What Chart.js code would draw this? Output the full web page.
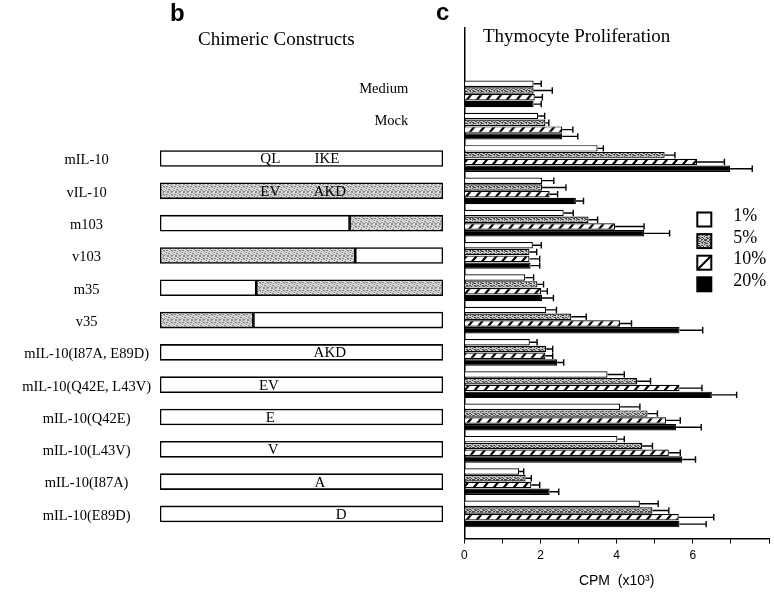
<!DOCTYPE html>
<html>
<head>
<meta charset="utf-8">
<title>Chimeric constructs and thymocyte proliferation</title>
<script src="https://cdn.jsdelivr.net/npm/chart.js@4.4.1/dist/chart.umd.min.js"></script>
<style>
  html, body { margin: 0; padding: 0; background: #fff; }
  #figure { position: relative; width: 774px; height: 593px; overflow: hidden; }
  #figure canvas { position: absolute; top: 0; }
  #constructs { left: 0; }
  #proliferation { left: 330px; }
  .panel-letter { position: absolute; font: bold 24px 'Liberation Sans', Arial, sans-serif; line-height: 1; }
  .panel-title { position: absolute; font: 19px 'Liberation Serif', 'Times New Roman', serif; line-height: 1; white-space: nowrap; }
</style>
</head>
<body>
<div id="figure">
  <canvas id="constructs" width="460" height="593"></canvas>
  <canvas id="proliferation" width="444" height="593"></canvas>
  <div class="panel-letter" style="left:170px; top:1px">b</div>
  <div class="panel-title" style="left:198px; top:29px">Chimeric Constructs</div>
  <div class="panel-letter" style="left:436px; top:0px">c</div>
  <div class="panel-title" style="left:483px; top:26px">Thymocyte Proliferation</div>
</div>
<script>
// rows, top to bottom
var groups = ['Medium', 'Mock', 'mIL-10', 'vIL-10', 'm103', 'v103', 'm35', 'v35',
    'mIL-10(I87A, E89D)', 'mIL-10(Q42E, L43V)', 'mIL-10(Q42E)', 'mIL-10(L43V)',
    'mIL-10(I87A)', 'mIL-10(E89D)'];

// construct cartoons (panel b): species of the N-terminal part and its share in %
var nTermSpecies = [null, null, 'm', 'v', 'm', 'v', 'm', 'v', 'm', 'm', 'm', 'm', 'm', 'm'];
var nTermPart = [null, null, 100, 100, 67, 69, 34, 33, 100, 100, 100, 100, 100, 100];
var mutations = [[], [], ['QL', 'IKE'], ['EV', 'AKD'], [], [], [], [],
    ['AKD'], ['EV'], ['E'], ['V'], ['A'], ['D']];
var mutationAt = [[], [], [39, 59], [39, 60], [], [], [], [],
    [60], [38.5], [39], [40], [56.5], [64]];

// thymocyte proliferation (panel c), CPM x10^3 and error
var concentrations = ['1%', '5%', '10%', '20%'];
var cpm1 = [1.82, 1.94, 3.50, 2.04, 2.61, 1.80, 1.60, 2.15, 1.72, 3.76, 4.09, 4.02, 1.44, 4.61];
var cpm5 = [1.82, 2.13, 5.26, 2.04, 3.26, 1.71, 1.92, 2.81, 2.15, 4.54, 4.81, 4.67, 1.61, 4.94];
var cpm10 = [1.85, 2.57, 6.11, 2.24, 3.96, 1.71, 2.02, 4.09, 2.13, 5.65, 5.30, 5.37, 1.76, 5.63];
var cpm20 = [1.82, 2.57, 6.98, 2.93, 4.72, 1.74, 2.04, 5.65, 2.44, 6.50, 5.56, 5.72, 2.24, 5.65];
var sem1 = [0.20, 0.17, 0.15, 0.31, 0.25, 0.22, 0.22, 0.27, 0.19, 0.44, 0.52, 0.18, 0.12, 0.48];
var sem5 = [0.49, 0.09, 0.27, 0.63, 0.24, 0.19, 0.16, 0.39, 0.17, 0.35, 0.26, 0.27, 0.15, 0.43];
var sem10 = [0.20, 0.28, 0.72, 0.21, 0.76, 0.27, 0.16, 0.30, 0.19, 0.59, 0.37, 0.30, 0.22, 0.92];
var sem20 = [0.20, 0.41, 0.58, 0.20, 0.67, 0.24, 0.30, 0.61, 0.17, 0.65, 0.66, 0.35, 0.24, 0.70];
var xTickLabels = [0, 2, 4, 6];

// shared vertical range so both panels line up row by row
var rowTop = -2.04, rowBottom = 13.76;
var rowIndex = groups.map(function (g, i) { return i; });

Chart.defaults.font.family = "'Liberation Serif', 'Times New Roman', serif";
Chart.defaults.color = '#000';

function points(values) {
    return values.map(function (v, i) { return { x: v, y: i }; });
}

function stipple(ctx, base, dot, n) {
    var t = document.createElement('canvas');
    t.width = t.height = 8;
    var g = t.getContext('2d');
    g.fillStyle = base;
    g.fillRect(0, 0, 8, 8);
    g.fillStyle = dot;
    for (var y = 0; y < 8; y++) {
        for (var x = 0; x < 8; x++) {
            if ((x * 5 + y * 3 + ((x * y) % 3)) % 7 < n) g.fillRect(x, y, 1, 1);
        }
    }
    return ctx.createPattern(t, 'repeat');
}

function hatchPattern(ctx) {
    var w = 10, h = 12;
    var t = document.createElement('canvas');
    t.width = w; t.height = h;
    var g = t.getContext('2d');
    g.fillStyle = '#fff';
    g.fillRect(0, 0, w, h);
    g.strokeStyle = '#000';
    g.lineWidth = 2.2;
    for (var k = 0; k <= 2; k++) {
        g.beginPath();
        g.moveTo(-w, h * (k + 1));
        g.lineTo(2 * w, h * (k - 2));
        g.stroke();
    }
    return ctx.createPattern(t, 'repeat');
}

// --- panel b: chimeric constructs ---
var ctxB = document.getElementById('constructs').getContext('2d');
var viralFill = stipple(ctxB, '#d4d4d4', '#8a8a8a', 2);
function speciesFill(s) { return s === 'v' ? viralFill : '#fff'; }

var mutationText = {
    id: 'mutationText',
    afterDatasetsDraw: function (chart) {
        var ctx = chart.ctx, xs = chart.scales.x, ys = chart.scales.y;
        ctx.save();
        ctx.fillStyle = '#000';
        ctx.font = "15px 'Liberation Serif'";
        ctx.textAlign = 'center';
        ctx.textBaseline = 'middle';
        mutations.forEach(function (list, i) {
            list.forEach(function (txt, j) {
                ctx.fillText(txt, xs.getPixelForValue(mutationAt[i][j]), ys.getPixelForValue(i) + 1);
            });
        });
        ctx.restore();
    }
};

new Chart(ctxB, {
    type: 'bar',
    data: {
        datasets: [{
            label: 'N-terminal part',
            data: points(nTermPart),
            backgroundColor: nTermSpecies.map(speciesFill)
        }, {
            label: 'C-terminal part',
            data: points(nTermPart.map(function (p) { return (p === null || p === 100) ? null : 100 - p; })),
            backgroundColor: nTermSpecies.map(function (s) { return speciesFill(s === 'm' ? 'v' : 'm'); })
        }]
    },
    options: {
        indexAxis: 'y',
        responsive: false,
        animation: false,
        events: [],
        layout: { padding: { top: 28, right: 17, bottom: 54.5, left: 0 } },
        datasets: { bar: { borderColor: '#000', borderWidth: 1.6, borderSkipped: false, barThickness: 16 } },
        plugins: { legend: { display: false }, tooltip: { enabled: false } },
        scales: {
            x: { type: 'linear', display: false, min: 0, max: 100, stacked: true },
            y: {
                type: 'linear', reverse: true, offset: false, min: rowTop, max: rowBottom, stacked: true,
                afterFit: function (s) { s.width = 160; s.paddingTop = 0; s.paddingBottom = 0; },
                afterBuildTicks: function (s) {
                    s.ticks = rowIndex.filter(function (i) { return nTermSpecies[i] !== null; })
                        .map(function (i) { return { value: i }; });
                },
                grid: { display: false, drawTicks: false },
                border: { display: false },
                ticks: {
                    crossAlign: 'center', padding: 9, labelOffset: 2, color: '#000',
                    font: { size: 14.5 },
                    callback: function (v) { return groups[v]; }
                }
            }
        }
    },
    plugins: [mutationText]
});

// --- panel c: thymocyte proliferation ---
var ctxC = document.getElementById('proliferation').getContext('2d');
var stipC = stipple(ctxC, '#c4c4c4', '#4a4a4a', 3);
var hatch = hatchPattern(ctxC);

var errorBars = {
    id: 'errorBars',
    afterDatasetsDraw: function (chart) {
        var ctx = chart.ctx, xs = chart.scales.x;
        ctx.save();
        ctx.strokeStyle = '#000';
        ctx.lineWidth = 1.4;
        chart.data.datasets.forEach(function (ds, di) {
            chart.getDatasetMeta(di).data.forEach(function (bar, i) {
                var end = xs.getPixelForValue(ds.data[i].x + ds.errors[i]);
                var half = bar.height / 2;
                ctx.beginPath();
                ctx.moveTo(bar.x, bar.y);
                ctx.lineTo(end, bar.y);
                ctx.moveTo(end, bar.y - half);
                ctx.lineTo(end, bar.y + half);
                ctx.stroke();
            });
        });
        ctx.restore();
    }
};

var legendBox = {
    id: 'legendBox',
    afterDraw: function (chart) {
        var ctx = chart.ctx, area = chart.chartArea;
        var x = area.left + 233, y = area.top + 184.5, size = 14, step = 21.6;
        ctx.save();
        chart.data.datasets.forEach(function (ds, i) {
            var top = y + i * step;
            ctx.fillStyle = ds.hatched ? '#fff' : ds.backgroundColor;
            ctx.fillRect(x, top, size, size);
            ctx.strokeStyle = '#000';
            ctx.lineWidth = 2;
            if (ds.hatched) {
                ctx.beginPath();
                ctx.moveTo(x, top + size);
                ctx.lineTo(x + size, top);
                ctx.stroke();
            }
            ctx.strokeRect(x, top, size, size);
            ctx.fillStyle = '#000';
            ctx.font = "18px 'Liberation Serif'";
            ctx.textAlign = 'left';
            ctx.textBaseline = 'middle';
            ctx.fillText(ds.label, x + 36, top + size / 2 - 3);
        });
        ctx.restore();
    }
};

new Chart(ctxC, {
    type: 'bar',
    data: {
        datasets: [
            { label: concentrations[0], data: points(cpm1), errors: sem1, backgroundColor: '#fff' },
            { label: concentrations[1], data: points(cpm5), errors: sem5, backgroundColor: stipC },
            { label: concentrations[2], data: points(cpm10), errors: sem10, backgroundColor: hatch, hatched: true },
            { label: concentrations[3], data: points(cpm20), errors: sem20, backgroundColor: '#000' }
        ]
    },
    options: {
        indexAxis: 'y',
        responsive: false,
        animation: false,
        events: [],
        layout: { padding: { top: 28, right: 3, bottom: 0, left: 0 } },
        datasets: { bar: { borderColor: '#000', borderWidth: 1.2, categoryPercentage: 0.84, barPercentage: 0.95 } },
        plugins: { legend: { display: false }, tooltip: { enabled: false } },
        scales: {
            x: {
                type: 'linear', min: 0, max: 8,
                afterFit: function (s) { s.height = 54.5; },
                grid: { display: true, drawOnChartArea: false, drawTicks: true, tickLength: 5, color: '#000', lineWidth: 1 },
                border: { display: true, color: '#000', width: 1.5 },
                ticks: {
                    stepSize: 1, autoSkip: false, maxRotation: 0, padding: 5, color: '#000',
                    font: { family: "'Liberation Sans', Arial, sans-serif", size: 12 },
                    callback: function (v) { return xTickLabels.indexOf(v) >= 0 ? String(v) : ''; }
                },
                title: {
                    display: true, text: 'CPM  (x10³)', color: '#000',
                    font: { family: "'Liberation Sans', Arial, sans-serif", size: 14 },
                    padding: { top: 0, bottom: 3 }
                }
            },
            y: {
                type: 'linear', reverse: true, offset: false, min: rowTop, max: rowBottom,
                afterFit: function (s) { s.width = 134.3; s.paddingTop = 0; s.paddingBottom = 0; },
                afterBuildTicks: function (s) {
                    s.ticks = rowIndex.filter(function (i) { return nTermSpecies[i] === null; })
                        .map(function (i) { return { value: i }; });
                },
                grid: { display: false, drawTicks: false },
                border: { display: true, color: '#000', width: 1.5 },
                ticks: {
                    crossAlign: 'near', padding: 56, labelOffset: -5, color: '#000',
                    font: { size: 14.5 },
                    callback: function (v) { return groups[v]; }
                }
            }
        }
    },
    plugins: [errorBars, legendBox]
});
</script>
</body>
</html>
